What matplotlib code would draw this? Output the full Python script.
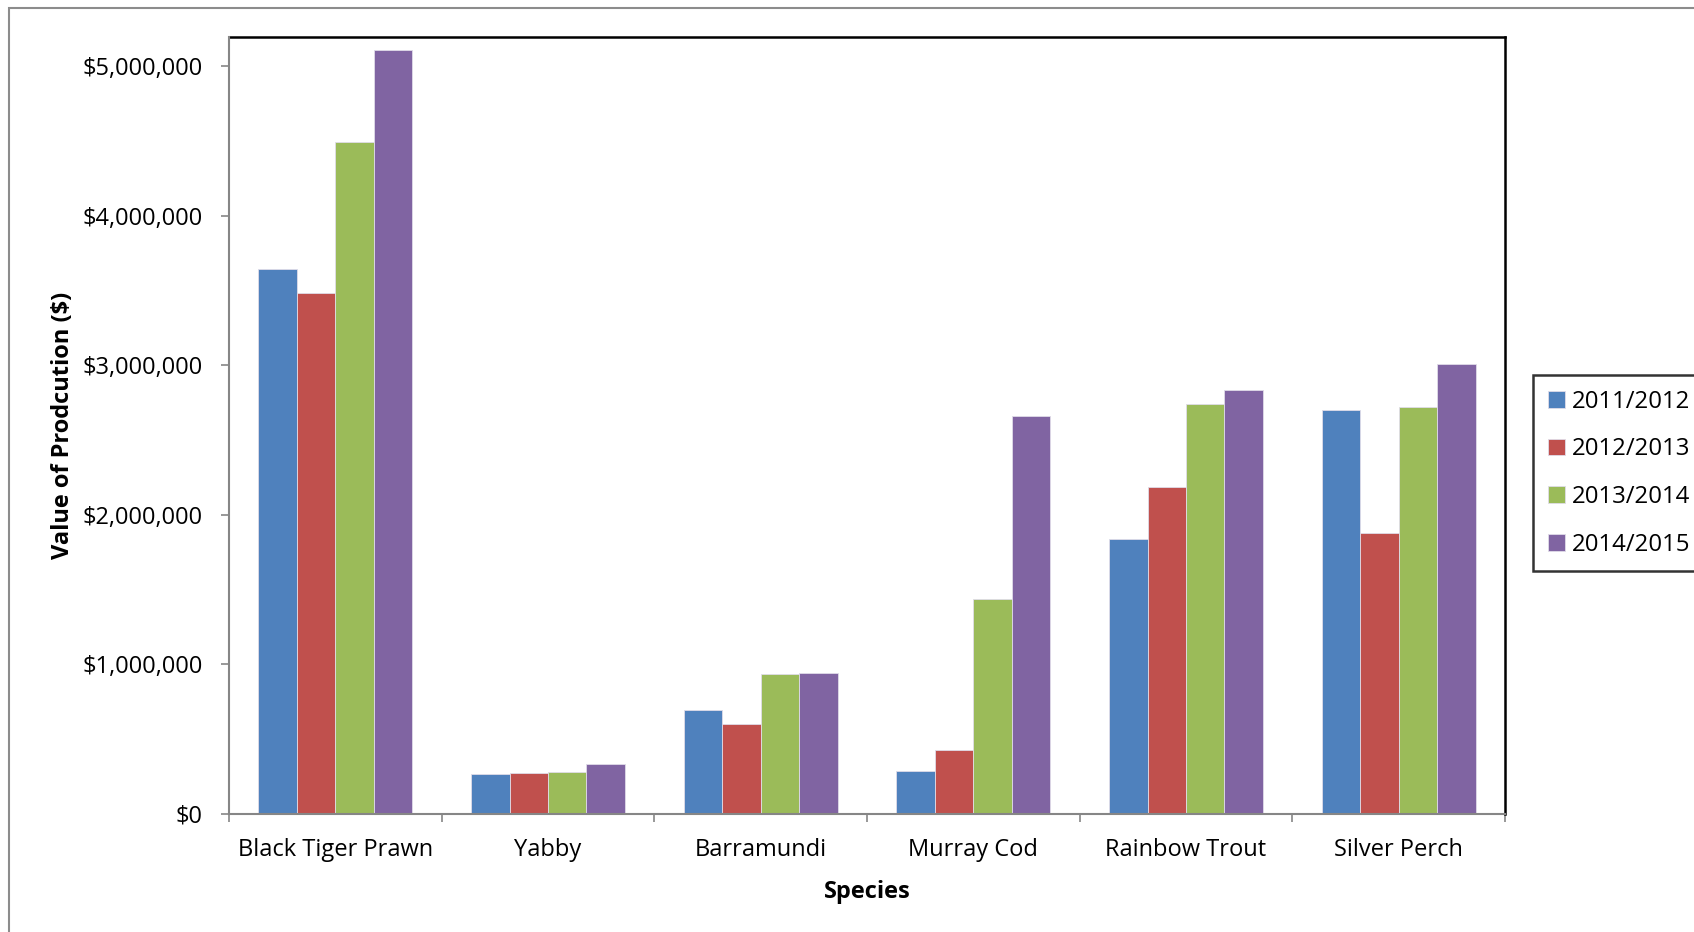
import numpy as np
import matplotlib.pyplot as plt
from matplotlib.patches import Rectangle
from matplotlib.ticker import FuncFormatter

plt.rcParams['font.family'] = ['Open Sans', 'DejaVu Sans']

species = ['Black Tiger Prawn', 'Yabby', 'Barramundi', 'Murray Cod',
           'Rainbow Trout', 'Silver Perch']
years = ['2011/2012', '2012/2013', '2013/2014', '2014/2015']
v_2011 = [3640000, 267000, 695000, 290000, 1840000, 2700000]
v_2012 = [3480000, 275000, 600000, 430000, 2185000, 1880000]
v_2013 = [4490000, 280000, 935000, 1440000, 2740000, 2720000]
v_2014 = [5110000, 335000, 940000, 2660000, 2835000, 3010000]
colors = ['#4F81BD', '#C0504D', '#9BBB59', '#8064A2']

W, H = 1694, 932
fig = plt.figure(figsize=(W / 100, H / 100), dpi=100)

# outer chart frame (cropped at right and bottom)
fig.patches.append(Rectangle((9 / W, -0.1), 1.2, (H - 8) / H + 0.1,
                             transform=fig.transFigure, fill=False,
                             edgecolor='#8c8c8c', linewidth=1.5))

ax = fig.add_axes([229 / W, (H - 814) / H, (1505 - 229) / W, (814 - 37) / H])

x = np.arange(len(species))
bw = 0.181
series = [v_2011, v_2012, v_2013, v_2014]
for i, (vals, lab, c) in enumerate(zip(series, years, colors)):
    ax.bar(x + (i - 1.5) * bw, vals, bw, color=c, label=lab,
           edgecolor='#e0dce8', linewidth=0.6)

ax.set_xlim(-0.5, len(species) - 0.5)
ax.set_ylim(0, 5.194e6)
ax.set_yticks(np.arange(0, 5000001, 1000000))
ax.yaxis.set_major_formatter(FuncFormatter(lambda v, p: f'${v:,.0f}'))
ax.set_xticks(x)
ax.set_xticklabels(species)
ax.set_xticks(np.arange(-0.5, len(species), 1), minor=True)

ax.tick_params(axis='y', length=6, width=1.2, color='#868686', pad=13,
               labelsize=17)
ax.tick_params(axis='x', which='major', length=0, pad=17, labelsize=17)
ax.tick_params(axis='x', which='minor', length=6, width=1.2, color='#868686')

for s in ['left', 'bottom']:
    ax.spines[s].set_color('#868686')
    ax.spines[s].set_linewidth(1.5)
    ax.spines[s].set_zorder(5)
for s in ['top', 'right']:
    ax.spines[s].set_color('black')
    ax.spines[s].set_linewidth(1.8)

ax.set_ylabel('Value of Prodcution ($)', fontsize=17, fontweight='bold',
              labelpad=5)
ax.set_xlabel('Species', fontsize=17, fontweight='bold', labelpad=13)

leg = ax.legend(loc='upper left', bbox_to_anchor=(1533 / W, (H - 375) / H),
                bbox_transform=fig.transFigure, fontsize=17.3, frameon=True,
                fancybox=False, edgecolor='black', handlelength=0.7,
                handleheight=0.7, handletextpad=0.3, labelspacing=0.98,
                borderpad=0.62, borderaxespad=0)
leg.get_frame().set_linewidth(1.8)

fig.savefig('out.png', dpi=100)
